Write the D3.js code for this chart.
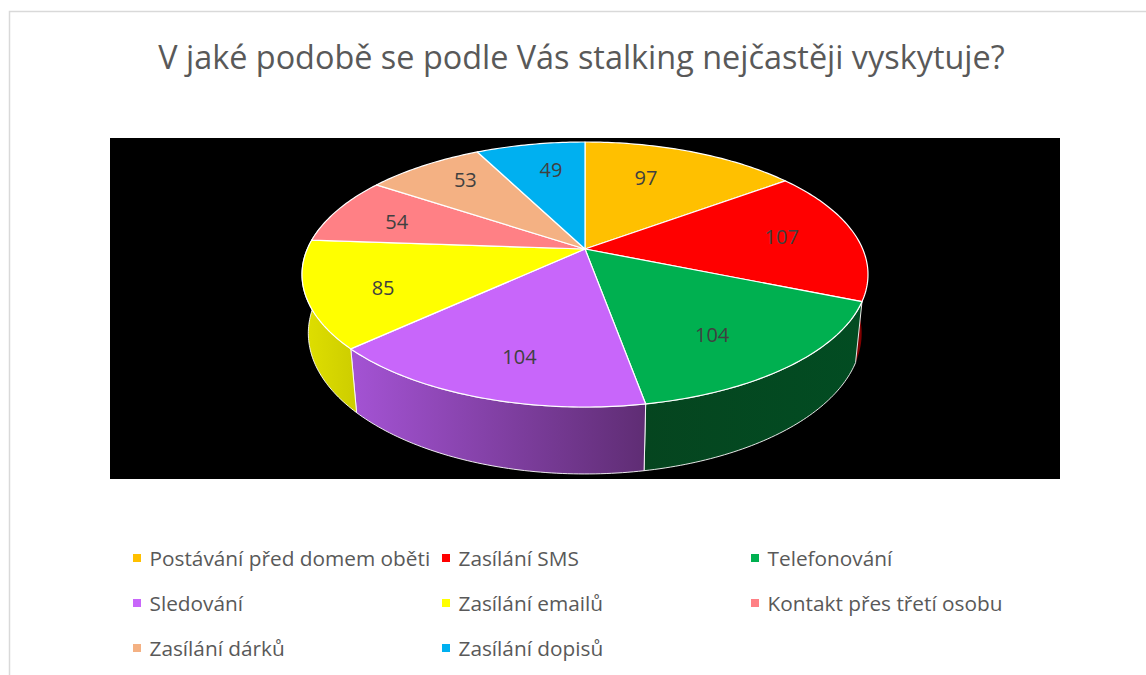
<!DOCTYPE html>
<html>
<head>
<meta charset="utf-8">
<script src="https://cdn.jsdelivr.net/npm/d3@7"></script>
<style>
body { margin: 0; background: #fff; }
text { font-family: "Open Sans", sans-serif; }
</style>
</head>
<body>
<script>
const titleText = "V jaké podobě se podle Vás stalking nejčastěji vyskytuje?";
const categories = ["Postávání před domem oběti", "Zasílání SMS", "Telefonování", "Sledování", "Zasílání emailů", "Kontakt přes třetí osobu", "Zasílání dárků", "Zasílání dopisů"];
const values = [97, 107, 104, 104, 85, 54, 53, 49];
const colors = ["#ffc000", "#ff0000", "#00b050", "#c866fa", "#ffff00", "#ff8085", "#f4b183", "#00b0f0"];
const wallFrom = ["#7f6000", "#8a0000", "#024c22", "#a453d4", "#e0e000", "#803f42", "#7a5841", "#005878"];
const wallTo = ["#7f6000", "#700000", "#05451f", "#5f2d74", "#cdcd00", "#803f42", "#7a5841", "#005878"];

const width = 1146, height = 675;
// perspective of the pie disc, fitted to the picture
const cx = 585, cy = 249, A = 277.7, B = 127.6, k = -0.1925;
const depthH = 0.022, depthY = 59;
// data labels were moved by hand in the original: degrees off the slice middle, and radius
const labelTurn = [-5.2, -0.6, 4.6, -2.9, -3.4, -1.6, 3, 2.3];
const labelRadius = [0.67, 0.728, 0.72, 0.756, 0.745, 0.74, 0.77, 0.716];

const svg = d3.select("body").append("svg")
	.attr("width", width)
	.attr("height", height)
	.style("display", "block");

svg.append("rect").attr("width", width).attr("height", height).attr("fill", "#fff");

// chart frame, runs out of the picture on the right and bottom
svg.append("rect")
	.attr("x", 9.5).attr("y", 11.5)
	.attr("width", width + 20).attr("height", height + 20)
	.attr("fill", "none")
	.attr("stroke", "#d9d9d9")
	.attr("stroke-width", 1.5);

svg.append("text")
	.attr("x", 581.5)
	.attr("y", 69)
	.attr("text-anchor", "middle")
	.attr("font-size", 32.4)
	.attr("fill", "#595959")
	.text(titleText);

svg.append("rect")
	.attr("x", 110).attr("y", 138)
	.attr("width", 950).attr("height", 341)
	.attr("fill", "#000");

function project(angle, r, t) {
	var u = r * Math.sin(angle);
	var v = -r * Math.cos(angle);
	var w = 1 + k * v + depthH * t;
	return [cx + A * u / w, cy + (B * v + depthY * t) / w];
}

var pie = d3.pie().sort(null).value(function(d) { return d; });
var arcs = pie(values);
var line = d3.line();

function samples(a0, a1) {
	var n = Math.max(2, Math.ceil((a1 - a0) * 60));
	return d3.range(n + 1).map(function(i) { return a0 + (a1 - a0) * i / n; });
}

var defs = svg.append("defs");

// side walls first, the top disc covers whatever is behind
var walls = svg.append("g");
arcs.forEach(function(d, i) {
	var a0 = d.startAngle, a1 = d.endAngle;
	var limit0 = Math.PI * 0.45, limit1 = Math.PI * 1.55;
	a0 = Math.max(a0, limit0);
	a1 = Math.min(a1, limit1);
	if (a1 <= a0) return;
	var angles = samples(a0, a1);
	var topEdge = angles.map(function(a) { return project(a, 1, 0); });
	var bottomEdge = angles.map(function(a) { return project(a, 1, 1); }).reverse();
	var xs = topEdge.concat(bottomEdge).map(function(p) { return p[0]; });
	var grad = defs.append("linearGradient")
		.attr("id", "wall" + i)
		.attr("gradientUnits", "userSpaceOnUse")
		.attr("x1", d3.max(xs)).attr("x2", d3.min(xs))
		.attr("y1", 0).attr("y2", 0);
	if (i === 4 || i === 3) {
		grad.attr("x1", d3.min(xs)).attr("x2", d3.max(xs));
	}
	grad.append("stop").attr("offset", 0).attr("stop-color", wallFrom[i]);
	grad.append("stop").attr("offset", 1).attr("stop-color", wallTo[i]);
	// red wall is only a sliver, a white outline would swallow it
	walls.append("path")
		.attr("d", line(topEdge.concat(bottomEdge)) + "Z")
		.attr("fill", "url(#wall" + i + ")")
		.attr("stroke", i === 1 ? "none" : "#fff")
		.attr("stroke-width", 0.9)
		.attr("stroke-linejoin", "round");
});

// top disc
var tops = svg.append("g");
arcs.forEach(function(d, i) {
	var pts = samples(d.startAngle, d.endAngle).map(function(a) { return project(a, 1, 0); });
	pts.unshift([cx, cy]);
	tops.append("path")
		.attr("d", line(pts) + "Z")
		.attr("fill", colors[i])
		.attr("stroke", "#fff")
		.attr("stroke-width", 1.2)
		.attr("stroke-linejoin", "round");
});

function labelPos(d, i) {
	var mid = (d.startAngle + d.endAngle) / 2 + labelTurn[i] * Math.PI / 180;
	return project(mid, labelRadius[i], 0);
}

svg.append("g").selectAll("text")
	.data(arcs)
	.join("text")
	.attr("x", function(d, i) { return labelPos(d, i)[0]; })
	.attr("y", function(d, i) { return labelPos(d, i)[1]; })
	.attr("dy", "0.36em")
	.attr("text-anchor", "middle")
	.attr("font-size", 20)
	.attr("fill", "#404040")
	.text(function(d) { return d.data; });

// legend, three columns
var colScale = d3.scalePoint().domain([0, 1, 2]).range([133, 751]);
var rowScale = d3.scalePoint().domain([0, 1, 2]).range([558, 648]);
var legend = svg.append("g").selectAll("g")
	.data(categories)
	.join("g")
	.attr("transform", function(d, i) { return "translate(" + colScale(i % 3) + "," + rowScale(Math.floor(i / 3)) + ")"; });
legend.append("rect")
	.attr("x", 0).attr("y", -4)
	.attr("width", 8).attr("height", 8)
	.attr("fill", function(d, i) { return colors[i]; });
legend.append("text")
	.attr("x", 16.5)
	.attr("dy", "0.36em")
	.attr("font-size", 20.8)
	.attr("fill", "#595959")
	.text(function(d) { return d; });
</script>
</body>
</html>
